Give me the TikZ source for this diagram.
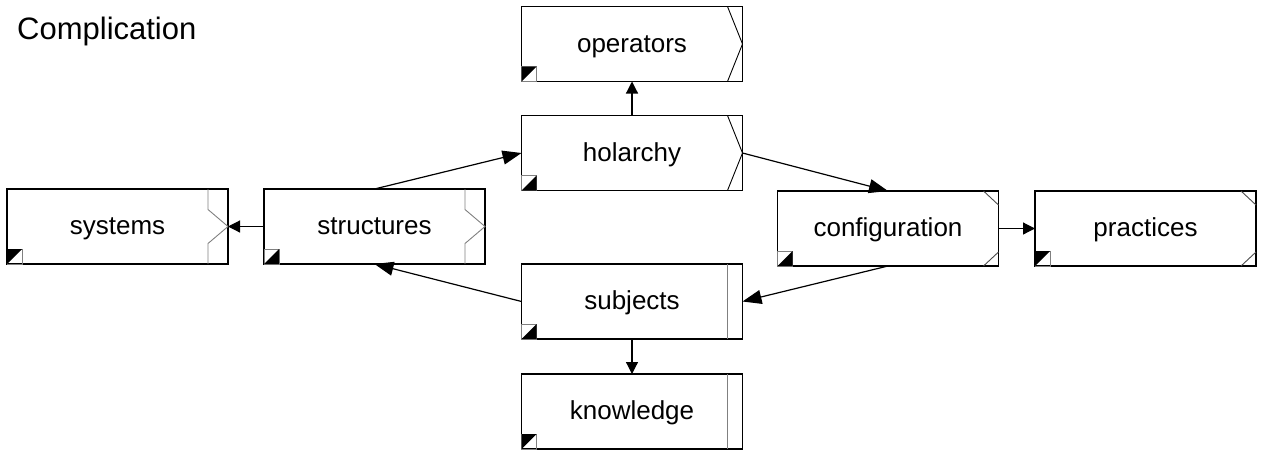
\documentclass[tikz,border=0pt]{standalone}
\usepackage{fontspec}
\setmainfont{Liberation Sans}
\usetikzlibrary{arrows.meta, positioning, calc}
\newcommand{\leafmark}[1]{
    \draw[gray, line width=0.9pt] (#1.south west) rectangle ++(15pt,15pt);
    \fill (#1.south west) -- ++(0pt,15pt) -- ++(15pt,0pt) -- cycle;
}
\newcommand{\hubmark}[1]{
    \draw[gray, line width=0.9pt] (#1.south west) rectangle ++(15pt,15pt);
    \fill (#1.south west) -- ++(15pt,0pt) -- ++(0pt,15pt) -- cycle;
}
\newcommand{\chevronedge}[1]{
    \draw[line width=0.9pt] ([xshift=-15pt]#1.north east) -- (#1.east) -- ([xshift=-15pt]#1.south east);
}
\newcommand{\notchedge}[1]{
    \draw[gray, line width=0.9pt] ([xshift=-20pt]#1.north east) -- ([xshift=-20pt, yshift=17pt]#1.east)
        -- (#1.east) -- ([xshift=-20pt, yshift=-17pt]#1.east) -- ([xshift=-20pt]#1.south east);
}
\newcommand{\corneredge}[1]{
    \draw[gray!60!black, line width=0.9pt] ([xshift=-15pt]#1.north east) -- ([yshift=-14pt]#1.north east);
    \draw[gray!60!black, line width=0.9pt] ([xshift=-15pt]#1.south east) -- ([yshift=14pt]#1.south east);
}
\newcommand{\doubleedge}[1]{
    \draw[gray, line width=0.9pt] ([xshift=-15pt]#1.north east) -- ([xshift=-15pt]#1.south east);
}

\begin{document}
\begin{tikzpicture}[x=1pt, y=-1pt,
    box/.style={draw, line width=1.8pt, minimum width=221pt, minimum height=75pt, inner sep=0pt, outer sep=0pt,
        text height=20pt, text depth=4pt, font=\fontsize{26}{30}\selectfont},
    flow/.style={-{Triangle[length=12pt, width=12pt]}, line width=1.2pt},
    slant/.style={-{Triangle[length=19pt, width=14pt]}, line width=1.2pt},
    title/.style={font=\fontsize{31}{36}\selectfont, anchor=base west, inner sep=0pt}
]

% Fix the page to the reference size
\useasboundingbox (0,0) rectangle (1269,456);

% Title
\node[title] (heading) at (17,39) {Complication};

% Central column
\node[box] (holarchy) at (632,153) {holarchy};
\node[box] (operators) at ([yshift=109pt]holarchy) {operators};
\node[box] (subjects) at ([yshift=-148.5pt]holarchy) {subjects};
\node[box] (knowledge) at ([yshift=-110pt]subjects) {knowledge};

% Left pair
\node[box] (structures) at (374.5,226.5) {structures};
\node[box] (systems) at ([xshift=-257pt]structures) {systems};

% Right pair
\node[box] (configuration) at (888,228.5) {configuration};
\node[box] (practices) at ([xshift=257.5pt]configuration) {practices};

% Right edge markings
\chevronedge{operators}
\chevronedge{holarchy}
\notchedge{systems}
\notchedge{structures}
\corneredge{configuration}
\corneredge{practices}
\doubleedge{subjects}
\doubleedge{knowledge}

% Corner flags
\leafmark{operators}
\leafmark{systems}
\leafmark{practices}
\leafmark{knowledge}
\hubmark{holarchy}
\hubmark{structures}
\hubmark{configuration}
\hubmark{subjects}

% Connections
\draw[flow] (holarchy.north) -- (operators.south);
\draw[slant] (structures.north) -- (holarchy.west);
\draw[slant] (holarchy.east) -- (configuration.north);
\draw[flow] (configuration.east) -- (practices.west);
\draw[slant] (configuration.south) -- (subjects.east);
\draw[slant] (subjects.west) -- (structures.south);
\draw[flow] (structures.west) -- (systems.east);
\draw[flow] (subjects.south) -- (knowledge.north);

\end{tikzpicture}
\end{document}
